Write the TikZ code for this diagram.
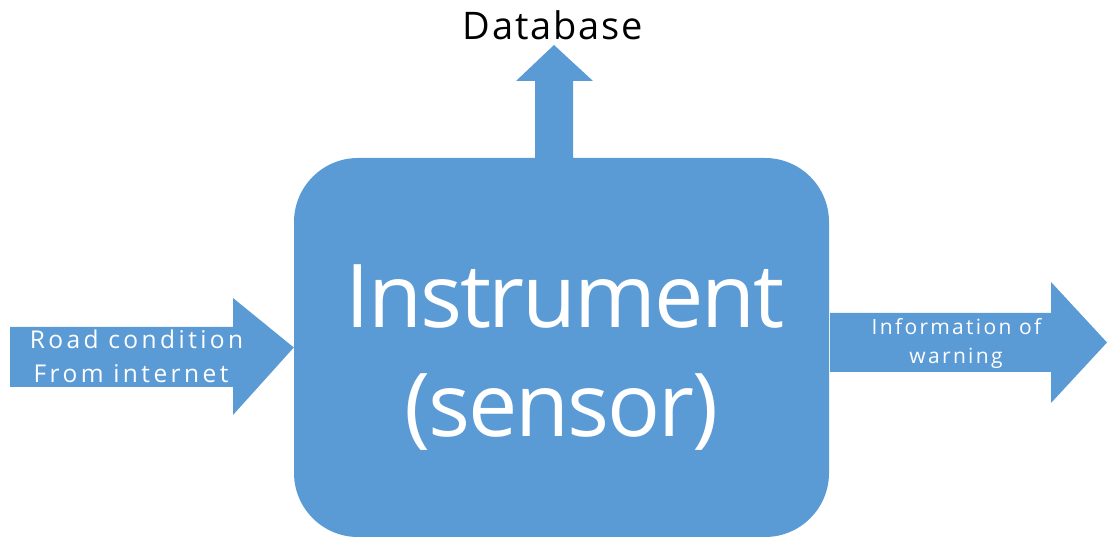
\documentclass[tikz,border=0pt]{standalone}
\usepackage{fontspec}
\setmainfont{Open Sans}
\begin{document}
\begin{tikzpicture}[x=1pt,y=1pt,
  blockfill/.style={fill=boxblue},
  lbl/.style={text=white,inner sep=0pt,align=center},
  bigtxt/.style={font=\fontsize{88}{109}\selectfont\addfontfeature{LetterSpace=-2.5}},
  intxt/.style={font=\fontsize{24.5}{30}\selectfont\addfontfeature{LetterSpace=14}},
  outtxt/.style={font=\fontsize{21}{26}\selectfont\addfontfeature{LetterSpace=11}},
]
\definecolor{boxblue}{HTML}{5B9BD5}
\useasboundingbox (0,0) rectangle (1107,537);

% main block
\node[blockfill,rounded corners=64pt,minimum width=535pt,minimum height=379pt,
      inner sep=0pt] (box) at (561.5,189.5) {};

% anchors of the three block arrows
\coordinate (inTail) at (10,180);
\coordinate (inTip) at (box.west);
\coordinate (outTip) at (1107,194.5);
\coordinate (upTip) at (554,492);

% incoming arrow (left)
\fill[boxblue] (inTail |- 0,210) -- (233,210) -- (233,239) -- (inTip)
  -- (233,122) -- (233,150) -- (inTail |- 0,150) -- cycle;
% outgoing arrow (right)
\fill[boxblue] (830,224) -- (1051,224) -- (1051,255) -- (outTip)
  -- (1051,134) -- (1051,165) -- (830,165) -- cycle;
% upward arrow (top)
\fill[boxblue] (535,379) -- (535,456) -- (516,456) -- (upTip)
  -- (593,456) -- (573,456) -- (573,379) -- cycle;

% texts
\node[lbl,anchor=base,bigtxt] (t1) at (565,209) {Instrument};
\node[lbl,anchor=base,bigtxt] (t2) at (561.5,100) {(sensor)};
\node[inner sep=0pt,anchor=base,font=\fontsize{38}{40}\selectfont\addfontfeature{LetterSpace=5}] (db) at (553,497) {Database};
\node[lbl,anchor=base,intxt] (in1) at (136.5,188) {Road condition};
\node[lbl,anchor=base,intxt] (in2) at (131,154) {From internet};
\node[lbl,anchor=base,outtxt] (out1) at (956.5,202) {Information of};
\node[lbl,anchor=base,outtxt] (out2) at (956,173) {warning};
\end{tikzpicture}
\end{document}
